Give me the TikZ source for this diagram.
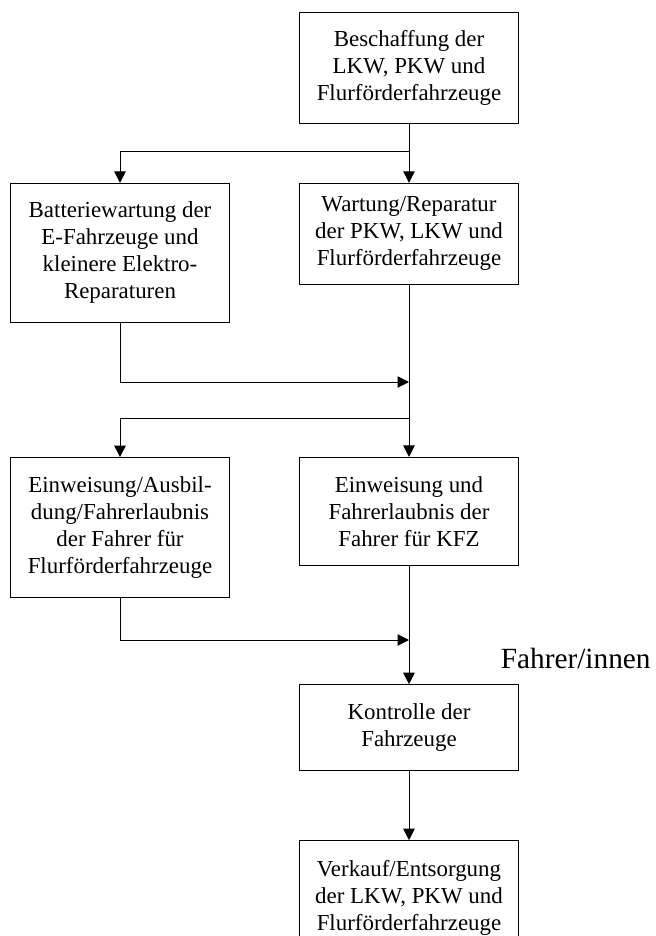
\documentclass[tikz,border=0pt]{standalone}
\usepackage{fontspec}
\setmainfont{Liberation Serif}
\usetikzlibrary{arrows.meta}
\begin{document}
\begin{tikzpicture}[x=1bp,y=-1bp,
  box/.style={draw,line width=1bp,minimum width=219bp,inner sep=0pt,align=center,
    font=\fontsize{23}{27}\selectfont},
  arr/.style={line width=1bp,-{Triangle[length=11.5bp,width=11.5bp]}},
  ln/.style={line width=1bp}]
\useasboundingbox (0,0) rectangle (656,936);
% boxes
\node[box,minimum height=110.6bp] (b1) at (409,68) {Beschaffung der\\LKW, PKW und\\Flurförderfahrzeuge};
\node[box,minimum height=138.7bp] (b2) at (120,252.7) {Batteriewartung der\\E-Fahrzeuge und\\kleinere Elektro-\\Reparaturen};
\node[box,minimum height=101bp] (b3) at (409,233.8) {Wartung/Reparatur\\der PKW, LKW und\\Flurförderfahrzeuge};
\node[box,minimum height=140bp] (b4) at (120,527.6) {Einweisung/Ausbil-\\dung/Fahrerlaubnis\\der Fahrer für\\Flurförderfahrzeuge};
\node[box,minimum height=107.7bp] (b5) at (409,511.3) {Einweisung und\\Fahrerlaubnis der\\Fahrer für KFZ};
\node[box,minimum height=86bp] (b6) at (409,727.7) {Kontrolle der\\Fahrzeuge};
\node[box,minimum height=113.8bp] (b7) at (409,897.6) {Verkauf/Entsorgung\\der LKW, PKW und\\Flurförderfahrzeuge};
\node[anchor=base west,inner sep=0pt,font=\fontsize{29.4}{34}\selectfont] (fi) at (500.7,668.3) {Fahrer/innen};
% junction points
\coordinate (s1) at (409,151);
\coordinate (j1) at (409,382);
\coordinate (s2) at (409,418.3);
\coordinate (j2) at (409,640);
% connectors
\draw[arr] (b1.south) -- (b3.north);
\draw[arr] (s1) -| (b2.north);
\draw[arr] (b3.south) -- (b5.north);
\draw[arr] (b2.south) |- (j1);
\draw[arr] (s2) -| (b4.north);
\draw[arr] (b5.south) -- (b6.north);
\draw[arr] (b4.south) |- (j2);
\draw[arr] (b6.south) -- (b7.north);
\end{tikzpicture}
\end{document}
